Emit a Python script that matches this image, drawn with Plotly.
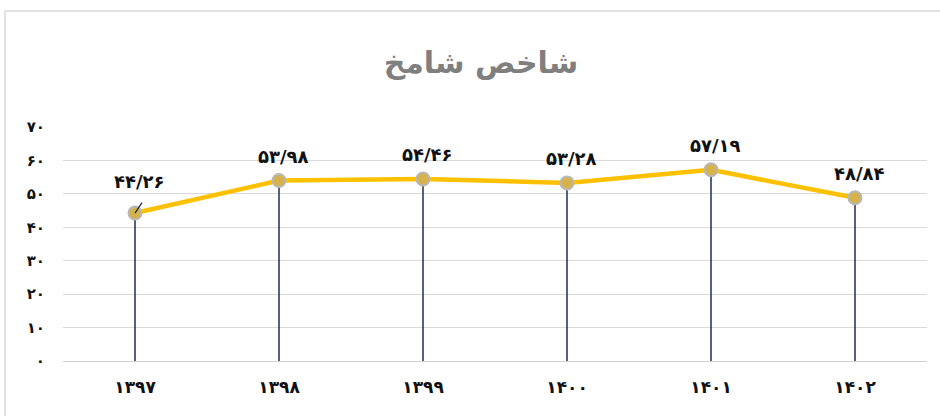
import plotly.graph_objects as go

years = ["۱۳۹۷", "۱۳۹۸", "۱۳۹۹", "۱۴۰۰", "۱۴۰۱", "۱۴۰۲"]
values = [44.26, 53.98, 54.46, 53.28, 57.19, 48.84]
value_labels = ["۴۴/۲۶", "۵۳/۹۸", "۵۴/۴۶", "۵۳/۲۸", "۵۷/۱۹", "۴۸/۸۴"]
y_ticks = [0, 10, 20, 30, 40, 50, 60, 70]
y_tick_labels = ["۰", "۱۰", "۲۰", "۳۰", "۴۰", "۵۰", "۶۰", "۷۰"]
title_text = "شاخص شامخ"

idx = list(range(len(years)))
FONT = "DejaVu Sans, Noto Sans, sans-serif"

fig = go.Figure()
fig.add_trace(go.Scatter(
    x=idx, y=values, mode="lines+markers",
    line=dict(color="#FFC000", width=4.5),
    marker=dict(size=13, color="#D6B24C", line=dict(color="#B8B8B8", width=2)),
    error_y=dict(type="data", symmetric=False, array=[0] * len(values),
                 arrayminus=values, color="#1F2D4E", thickness=1.5, width=0),
    hoverinfo="skip", showlegend=False,
))

for i, (v, lab) in enumerate(zip(values, value_labels)):
    shift = 32 if i == 0 else 24
    fig.add_annotation(x=i, y=v, text="<b>" + lab + "</b>", showarrow=False,
                       xref="x", yref="y", yshift=shift, xshift=4,
                       font=dict(family=FONT, size=18, color="#111111"))

# leader line for the first label
fig.add_annotation(x=0, y=values[0], xref="x", yref="y", ax=8, ay=-12,
                   showarrow=True, arrowhead=0, arrowwidth=1.3,
                   arrowcolor="#1F2D4E", text="", standoff=0, startstandoff=0)

fig.update_layout(
    width=940, height=416,
    margin=dict(l=63, r=13, t=127, b=55),
    paper_bgcolor="white", plot_bgcolor="white",
    title=dict(text="<b>" + title_text + "</b>", x=481 / 940, xref="container",
               y=1 - 62 / 416, yref="container", xanchor="center", yanchor="middle",
               font=dict(family=FONT, size=30, color="#7F7F7F")),
    xaxis=dict(range=[-0.5, 5.5], tickvals=idx,
               ticktext=["<b>" + t + "</b>" for t in years],
               showgrid=False, zeroline=False, showline=False, ticks="",
               ticklabelstandoff=14,
               tickfont=dict(family=FONT, size=17, color="#111111")),
    yaxis=dict(range=[0, 70], tickvals=y_ticks,
               ticktext=["<b>" + t + "</b>" for t in y_tick_labels],
               showgrid=True, gridcolor="#D9D9D9", gridwidth=1,
               zeroline=True, zerolinecolor="#D0D0D0", zerolinewidth=1,
               showline=False, ticks="", ticklabelstandoff=17,
               tickfont=dict(family=FONT, size=15, color="#111111")),
    shapes=[dict(type="rect", xref="paper", yref="paper",
                 x0=(5 - 63) / 864, x1=1.1, y0=-0.5, y1=(361 - 11) / 234,
                 line=dict(color="#D9D9D9", width=1.5), fillcolor="rgba(0,0,0,0)",
                 layer="below")],
)

fig.write_html("out.html", config={"displayModeBar": False},
               post_script="document.body.style.margin='0';document.body.style.overflow='hidden';")
